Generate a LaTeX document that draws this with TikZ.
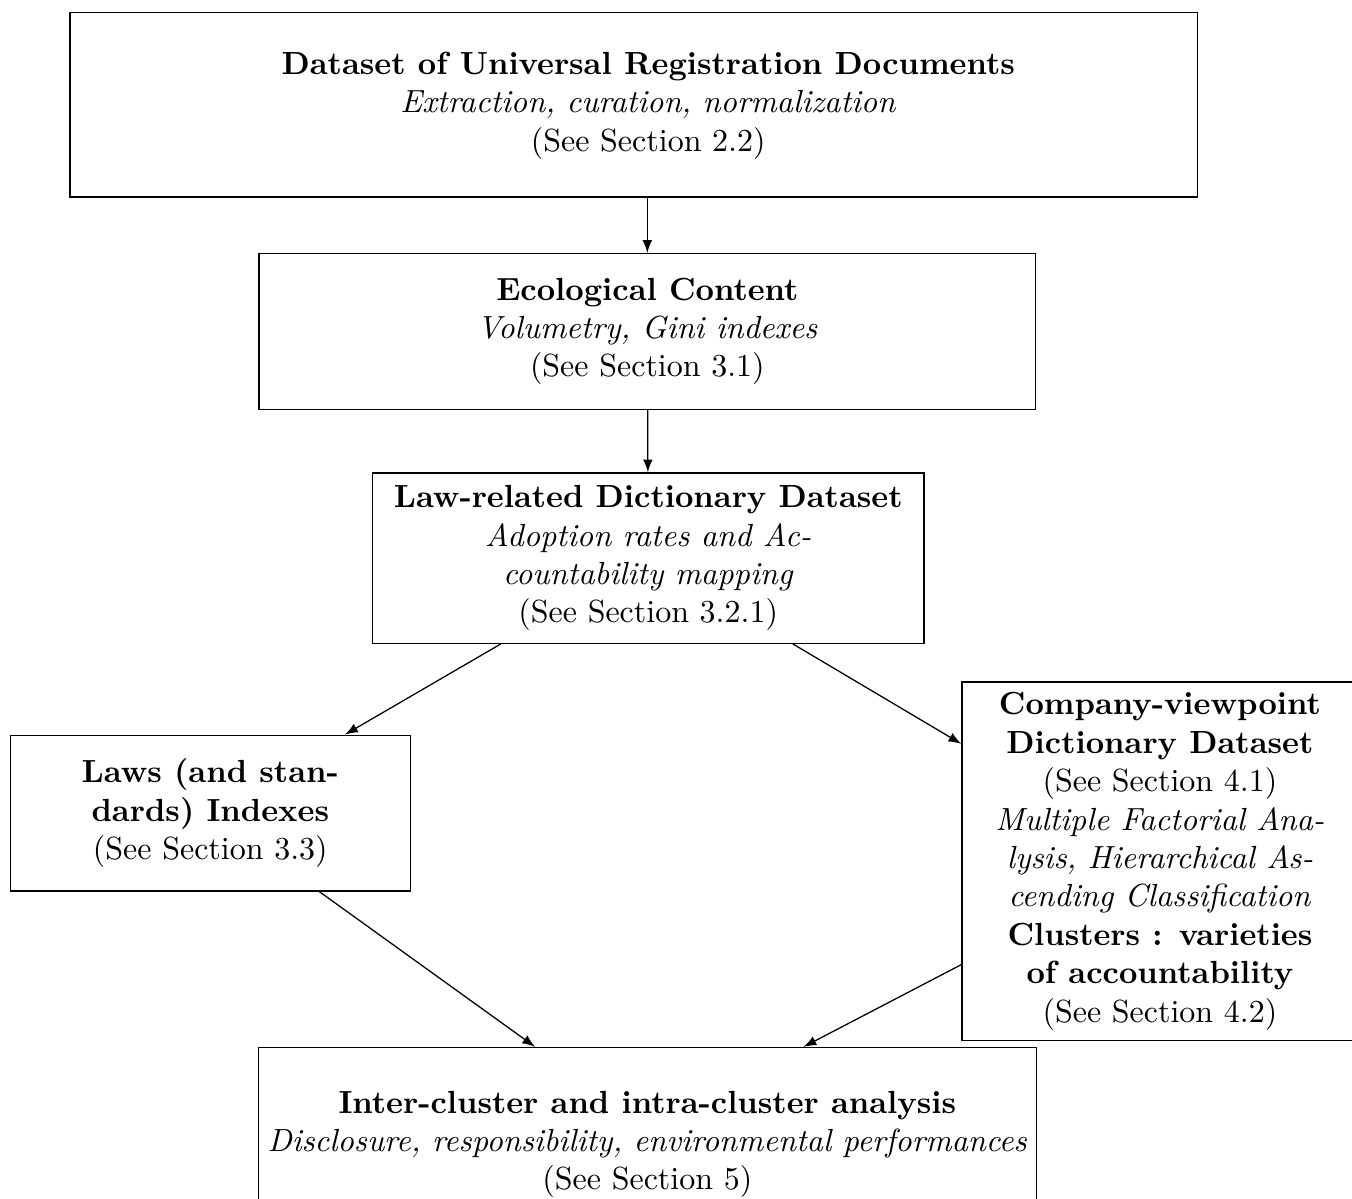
\documentclass[tikz,border=0pt]{standalone}
\usepackage{amsmath}
\usepackage{tikz}

\begin{document}
\begin{tikzpicture}[
   every node/.style={align=center},
   box/.style={draw,rectangle,inner sep=.1cm},
   flow/.style={-latex}]
\useasboundingbox (0,0) rectangle (14.85,-13.16);
\node[box,minimum width=12.38cm,minimum height=2.03cm] (URD) at (6.96,-1.15) {};
\node (URDtxt) at (7.12,-1.16) {\textbf{Dataset of Universal Registration Documents}\\\textit{Extraction, curation, normalization}\\(See Section 2.2)};
\node[box,minimum width=8.53cm,minimum height=1.71cm] (Eco) at (7.11,-3.64) {\textbf{Ecological Content}\\\textit{Volumetry, Gini indexes}\\(See Section 3.1)};
\node[box,minimum width=6.06cm,minimum height=1.87cm] (Law) at (7.12,-6.13) {\textbf{Law-related Dictionary Dataset}\\\textit{Adoption rates and Ac-}\\\textit{countability mapping}\\(See Section 3.2.1)};
\node[box,minimum width=4.39cm,minimum height=1.71cm] (Laws) at (2.31,-8.93) {\textbf{Laws (and stan-}\\\textbf{dards) Indexes}\\(See Section 3.3)};
\node[box,minimum width=4.35cm,minimum height=3.94cm] (Comp) at (12.74,-9.46) {\textbf{Company-viewpoint}\\\textbf{Dictionary Dataset}\\(See Section 4.1)\\\textit{Multiple Factorial Ana-}\\\textit{lysis, Hierarchical As-}\\\textit{cending Classification}\\\textbf{Clusters : varieties}\\\textbf{of accountability}\\(See Section 4.2)};
\node[box,minimum width=8.53cm,minimum height=2.13cm] (Inter) at (7.11,-12.57) {\textbf{Inter-cluster and intra-cluster analysis}\\\textit{Disclosure, responsibility, environmental performances}\\(See Section 5)};
\draw[flow] (URD.south -| Eco) -- (Eco);
\draw[flow] (Eco) -- (Law);
\draw[flow] (Law) -- (Laws);
\draw[flow] (Law) -- (Comp);
\draw[flow] (Laws) -- (Inter.139);
\draw[flow] (Comp) -- (Inter.32);
\end{tikzpicture}
\end{document}
